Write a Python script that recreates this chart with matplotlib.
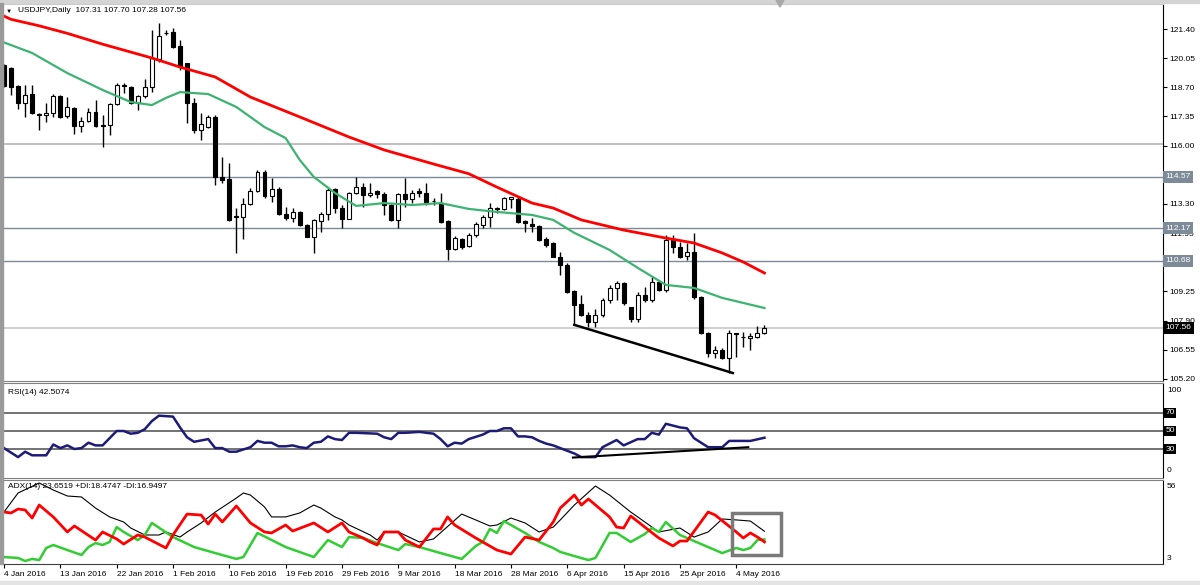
import numpy as np
import matplotlib
matplotlib.use('Agg')
import matplotlib.pyplot as plt
from matplotlib.patches import Rectangle, Polygon

plt.rcParams['font.family'] = ['Liberation Sans', 'DejaVu Sans']
plt.rcParams['font.size'] = 6

# daily candles, bar 0 = 4 Jan 2016
opens = [119.73, 119.59, 118.76, 117.97, 118.39, 117.47, 117.40, 117.51, 118.30, 117.37,
         117.74, 116.91, 117.14, 117.56, 116.96, 116.96, 117.93, 118.80, 118.71, 117.97,
         118.30, 118.71, 120.01, 121.20, 121.26, 120.61, 119.83, 117.97, 116.72, 116.86,
         117.33, 114.55, 114.45, 112.72, 112.70, 113.30, 113.90, 114.78, 113.67, 113.99,
         112.84, 112.65, 112.93, 112.33, 111.77, 112.50, 112.84, 113.99, 113.11, 112.60,
         113.81, 114.08, 113.71, 113.90, 113.76, 113.25, 112.56, 113.76, 113.53, 113.90,
         113.81, 113.44, 113.35, 112.51, 111.21, 111.68, 111.35, 111.86, 112.33, 112.70,
         113.11, 113.07, 113.55, 113.53, 112.51, 112.38, 112.28, 111.68, 111.49, 110.84,
         110.47, 109.27, 108.67, 108.16, 107.84, 108.16, 108.85, 109.41, 109.64, 108.53,
         107.97, 109.08, 108.85, 109.69, 109.32, 111.63, 111.31, 110.89, 111.08, 109.00,
         107.33, 106.40, 106.54, 106.17, 107.30, 107.15, 107.10, 107.15, 107.31]
highs = [119.80, 119.62, 118.80, 118.81, 118.81, 117.50, 117.97, 118.39, 118.35, 118.25,
         117.80, 117.33, 117.74, 118.11, 117.42, 117.97, 118.90, 118.90, 118.75, 118.34,
         119.08, 121.35, 121.68, 121.35, 121.45, 120.89, 119.85, 118.20, 117.51, 117.42,
         117.42, 115.47, 115.20, 113.11, 113.58, 114.04, 114.87, 114.87, 114.50, 114.08,
         113.16, 113.11, 112.97, 112.35, 112.60, 112.93, 114.04, 114.02, 113.25, 113.85,
         114.55, 114.27, 114.27, 113.95, 113.85, 113.28, 113.80, 114.50, 113.95, 114.04,
         114.27, 113.58, 113.81, 112.56, 111.82, 111.72, 111.95, 112.47, 112.79, 113.35,
         113.16, 113.62, 113.62, 113.65, 112.56, 112.65, 112.33, 111.75, 111.54, 111.08,
         110.57, 109.30, 109.08, 108.30, 108.44, 108.95, 109.55, 109.73, 109.69, 108.55,
         109.22, 109.45, 109.92, 109.80, 111.86, 111.86, 111.54, 111.49, 111.95, 109.05,
         107.38, 106.72, 106.63, 107.47, 107.33, 107.37, 107.33, 107.65, 107.70]
lows = [118.70, 118.34, 117.70, 117.33, 117.45, 116.72, 117.10, 117.33, 117.30, 117.28,
        116.54, 116.63, 117.10, 116.86, 115.94, 116.49, 117.88, 118.44, 117.95, 117.65,
        118.21, 118.48, 119.87, 121.12, 120.52, 119.50, 117.05, 116.58, 116.26, 116.82,
        114.18, 114.27, 112.50, 111.03, 111.68, 113.25, 113.85, 113.58, 113.39, 112.79,
        112.56, 112.47, 112.30, 111.75, 111.03, 112.00, 112.56, 112.88, 112.19, 112.58,
        113.75, 113.16, 113.62, 113.58, 112.79, 112.50, 112.19, 113.16, 113.35, 113.62,
        113.25, 113.25, 112.42, 110.71, 111.15, 111.21, 111.30, 111.77, 112.19, 112.24,
        112.88, 113.02, 113.11, 112.42, 112.00, 112.00, 111.58, 111.31, 110.82, 110.01,
        109.18, 107.70, 108.11, 107.60, 107.60, 108.07, 108.72, 108.85, 108.62, 107.84,
        107.84, 108.76, 108.76, 109.25, 109.22, 111.03, 110.80, 110.71, 108.90, 107.28,
        106.22, 106.17, 106.12, 105.47, 106.22, 106.68, 106.54, 107.10, 107.28]
closes = [118.75, 118.71, 117.97, 118.34, 117.51, 117.40, 117.51, 118.30, 117.33, 117.79,
          116.91, 117.14, 117.56, 116.91, 116.93, 117.93, 118.81, 118.76, 117.97, 118.30,
          118.71, 120.06, 121.08, 121.22, 120.57, 119.64, 117.97, 116.72, 117.00, 117.33,
          114.55, 114.41, 112.56, 112.68, 113.30, 113.90, 114.78, 113.67, 113.99, 112.84,
          112.65, 112.93, 112.33, 111.77, 112.56, 112.84, 113.95, 113.11, 112.60, 113.81,
          114.08, 113.71, 113.81, 113.76, 113.25, 112.56, 113.76, 113.53, 113.81, 113.81,
          113.39, 113.42, 112.47, 111.21, 111.72, 111.31, 111.86, 112.38, 112.70, 113.11,
          113.07, 113.58, 113.60, 112.47, 112.42, 112.28, 111.63, 111.40, 110.84, 110.47,
          109.22, 108.62, 108.16, 107.84, 108.16, 108.85, 109.41, 109.64, 108.72, 107.97,
          109.08, 108.85, 109.69, 109.32, 111.63, 111.31, 110.84, 111.08, 109.00, 107.33,
          106.40, 106.54, 106.17, 107.33, 107.26, 107.13, 107.17, 107.33, 107.56]

date_labels = ['4 Jan 2016', '13 Jan 2016', '22 Jan 2016', '1 Feb 2016', '10 Feb 2016',
               '19 Feb 2016', '29 Feb 2016', '9 Mar 2016', '18 Mar 2016', '28 Mar 2016',
               '6 Apr 2016', '15 Apr 2016', '25 Apr 2016', '4 May 2016']
price_ticks = [121.40, 120.05, 118.70, 117.35, 116.00, 114.65, 113.30,
               111.95, 110.60, 109.25, 107.90, 106.55, 105.20]
hidden_ticks = [114.65, 110.60]  # covered by the level boxes

# moving averages (bar index, price)
ma_slow_x = [0, 1, 5, 9, 14, 21, 25, 30, 35, 42, 49, 54, 61, 66, 70, 75, 78, 82, 88, 94, 98, 102, 105, 108]
ma_slow = [122.00, 121.85, 121.55, 121.20, 120.70, 120.06, 119.64, 119.18, 118.25, 117.33, 116.40,
           115.80, 115.15, 114.70, 114.08, 113.34, 113.11, 112.56, 112.09, 111.72, 111.49,
           111.03, 110.61, 110.10]
ma_fast_x = [0, 4, 9, 14, 18, 21, 23, 25, 29, 33, 37, 40, 42, 44, 47, 50, 54, 58, 62, 66,
             70, 75, 78, 81, 86, 90, 94, 98, 102, 108]
ma_fast = [120.78, 120.29, 119.36, 118.58, 118.02, 117.88, 118.21, 118.48, 118.39, 117.79,
           116.86, 116.35, 115.34, 114.55, 113.81, 113.21, 113.34, 113.25, 113.34, 113.07,
           112.93, 112.79, 112.56, 111.96, 111.17, 110.34, 109.55, 109.41, 108.95, 108.48]

grey_level = 116.06
slate_levels = [114.57, 112.17, 110.68]
bid = 107.56
trend_x = [81, 103.5]
trend_y = [107.70, 105.47]

rsi_x = [0, 2, 3, 4, 6, 7, 8, 9, 10, 11, 12, 13, 14, 16, 17, 18, 19, 20, 21, 22,
         24, 25, 26, 27, 29, 30, 31, 32, 33, 35, 36, 37, 38, 39, 40, 41, 42, 43, 44, 45,
         46, 47, 48, 49, 50, 53, 54, 55, 56, 57, 59, 60, 61, 62, 63, 64, 65, 66, 68, 69,
         70, 71, 72, 73, 74, 75, 76, 77, 78, 79, 81, 82, 84, 85, 87, 88, 90, 91, 92, 93,
         94, 96, 97, 98, 100, 102, 103, 104, 106, 108]
rsi = [31, 21, 27, 23, 23, 35, 31, 34, 30, 31, 37, 34, 34, 50, 50, 47, 48, 52, 61, 67,
       66, 54, 43, 38, 41, 31, 31, 27, 27, 32, 39, 37, 37, 33, 33, 34, 32, 31, 37, 38,
       44, 41, 40, 48, 48, 47, 43, 41, 48, 48, 49, 48, 47, 41, 33, 37, 36, 41, 46, 50,
       50, 53, 53, 44, 44, 43, 39, 36, 34, 31, 25, 21, 21, 32, 40, 34, 41, 41, 48, 46,
       58, 54, 53, 42, 32, 32, 39, 39, 39, 42.51]
rsi_levels = [70, 50, 30]
rsi_trend_x = [80.8, 105.7]
rsi_trend_y = [20.5, 32]

adx_x = [0, 2, 5, 7, 9, 11, 13, 15, 17, 18, 20, 22, 23, 25, 26, 28, 30, 33, 34, 35,
         37, 38, 40, 42, 44, 45, 47, 48, 49, 52, 53, 54, 56, 59, 61, 65, 67, 69, 70, 72,
         74, 76, 78, 79, 81, 84, 86, 89, 90, 93, 96, 98, 100, 102, 104, 106, 108]
adx = [35.8, 47.8, 54.1, 49.7, 45.9, 45.3, 38.3, 32.7, 29.5, 25.7, 21.3, 21.3, 23.2, 20.0, 23.2,
       28.9, 35.8, 44.6, 47.8, 46.5, 39.0, 32.7, 32.7, 35.2, 40.2, 38.3, 32.7, 30.8, 27.6, 21.3,
       18.1, 23.2, 23.2, 16.9, 18.8, 34.5, 30.8, 27.0, 27.6, 32.0, 28.9, 23.2, 26.3, 30.8, 40.2,
       52.2, 46.5, 35.8, 32.7, 23.2, 25.7, 20.0, 23.2, 31.4, 30.8, 30.1, 23.65]
mdi_x = [0, 1, 2, 3, 4, 5, 7, 9, 10, 13, 14, 16, 17, 19, 20, 23, 24, 26, 28, 29,
         30, 31, 33, 35, 37, 38, 40, 41, 44, 46, 48, 49, 51, 52, 53, 54, 56, 57, 59, 61,
         62, 63, 64, 67, 70, 72, 74, 76, 78, 79, 81, 82, 83, 86, 87, 88, 89, 91, 93, 95,
         96, 97, 100, 101, 104, 105, 106, 107, 108]
mdi = [35.8, 35.2, 37.7, 37.1, 32.0, 40.2, 32.7, 23.2, 27.0, 18.1, 23.2, 18.8, 15.6, 21.3, 20.0,
       13.1, 21.3, 34.5, 33.9, 28.2, 34.5, 29.5, 39.6, 28.9, 23.2, 22.6, 27.6, 23.8, 28.9, 23.2,
       28.9, 23.2, 19.4, 16.9, 15.0, 23.2, 23.2, 18.1, 13.7, 25.1, 25.1, 32.7, 27.6, 19.4, 11.8,
       9.3, 20.0, 18.1, 29.5, 38.3, 46.5, 40.2, 44.0, 32.7, 26.3, 25.7, 33.3, 26.3, 19.4, 14.4,
       17.5, 17.5, 35.8, 33.9, 23.2, 19.4, 22.6, 20.0, 16.95]
pdi_x = [0, 2, 3, 4, 5, 6, 7, 9, 11, 12, 13, 14, 15, 16, 17, 19, 20, 21, 24, 27,
         30, 33, 34, 36, 40, 44, 46, 48, 49, 51, 53, 56, 57, 59, 62, 65, 67, 68, 69, 70,
         71, 74, 76, 78, 79, 81, 83, 84, 86, 87, 89, 91, 92, 93, 94, 96, 99, 102, 104, 105,
         106, 107, 108]
pdi = [7.4, 6.8, 4.9, 6.2, 5.5, 13.1, 15.0, 11.8, 8.7, 13.7, 16.2, 15.0, 16.9, 26.3, 23.2,
       18.1, 21.3, 28.9, 20.0, 13.7, 9.9, 6.2, 7.4, 22.6, 13.7, 7.4, 18.1, 13.7, 20.0, 19.4,
       16.2, 11.8, 15.6, 13.7, 9.9, 6.2, 14.4, 16.9, 25.1, 22.6, 30.1, 22.6, 16.9, 13.1, 10.6,
       8.0, 5.5, 6.8, 22.6, 22.6, 16.9, 21.9, 25.7, 23.2, 29.5, 21.3, 15.6, 9.9, 13.1, 11.8,
       13.1, 18.1, 18.47]
box_x = [103.4, 110.4]
box_y = [8.7, 35.2]

W, H = 1200, 585


def place(top, bottom):
    return [3 / W, 1 - bottom / H, 1160 / W, (bottom - top) / H]


fig = plt.figure(figsize=(12, 5.85), dpi=100)
ax = fig.add_axes(place(4, 381))
ax_rsi = fig.add_axes(place(383, 478), sharex=ax)
ax_adx = fig.add_axes(place(480, 564), sharex=ax)

for a in (ax, ax_rsi, ax_adx):
    a.spines['left'].set_visible(False)
    a.spines['right'].set_color('black')
    a.spines['top'].set_color('#808080')
    a.spines['bottom'].set_color('#808080')
    a.tick_params(axis='x', bottom=False, labelbottom=False)
    a.yaxis.tick_right()
ax.spines['top'].set_color('#c8c8c8')
ax_adx.spines['bottom'].set_color('#404040')

# candles
o = np.array(opens)
h = np.array(highs)
l = np.array(lows)
c = np.array(closes)
idx = np.arange(len(o))
ax.vlines(idx, l, h, color='black', lw=1, zorder=2)
ax.bar(idx, np.maximum(np.abs(c - o), 0.025), bottom=np.minimum(o, c), width=0.56,
       color=np.where(c >= o, 'white', 'black'), edgecolor='black', lw=0.8, zorder=3)

ax.axhline(grey_level, color='#b4b4b4', lw=1.2, zorder=1)
for lv in slate_levels:
    ax.axhline(lv, color='#7d8b99', lw=1, zorder=1)
    ax.text(1.002, lv, f'{lv:.2f}', transform=ax.get_yaxis_transform(), color='white',
            ha='left', va='center', zorder=6, clip_on=False,
            bbox=dict(boxstyle='square,pad=0.3', fc='#7d8b99', ec='none'))
ax.axhline(bid, color='#c8c8c8', lw=1.2, zorder=1)
ax.text(1.002, bid, f'{bid:.2f}', transform=ax.get_yaxis_transform(), color='white',
        ha='left', va='center', zorder=6, clip_on=False,
        bbox=dict(boxstyle='square,pad=0.3', fc='black', ec='none'))

ax.plot(ma_slow_x, ma_slow, color='#ff0000', lw=2, zorder=4)
ax.plot(ma_fast_x, ma_fast, color='#3cb371', lw=1.6, zorder=4)
ax.plot(trend_x, trend_y, color='black', lw=1.8, zorder=5)

ax.set_xlim(-0.14, 164.6)
ax.set_ylim(105.10, 122.56)
ax.set_yticks(price_ticks)
ax.set_yticklabels(['' if t in hidden_ticks else f'{t:.2f}' for t in price_ticks])
ax.tick_params(axis='y', length=3, width=0.8, pad=1.5, labelsize=6)

# RSI
for lv in rsi_levels:
    ax_rsi.axhline(lv, color='#5a5a5a', lw=1.2, zorder=1)
    ax_rsi.text(1.002, lv, str(lv), transform=ax_rsi.get_yaxis_transform(), color='white',
                ha='left', va='center', clip_on=False,
                bbox=dict(boxstyle='square,pad=0.15', fc='black', ec='none'))
ax_rsi.plot(rsi_x, rsi, color='#1c1c78', lw=1.8, zorder=3)
ax_rsi.plot(rsi_trend_x, rsi_trend_y, color='black', lw=1.5, zorder=4)
ax_rsi.set_ylim(-2.2, 103.3)
ax_rsi.set_yticks([])

# ADX
ax_adx.plot(adx_x, adx, color='black', lw=0.8, zorder=3)
ax_adx.plot(mdi_x, mdi, color='#ff0000', lw=2, zorder=4)
ax_adx.plot(pdi_x, pdi, color='#32cd32', lw=1.8, zorder=3)
ax_adx.add_patch(Rectangle((box_x[0], box_y[0]), box_x[1] - box_x[0], box_y[1] - box_y[0],
                           fill=False, ec='#7a7a7a', lw=2.5, zorder=5))
ax_adx.set_ylim(3, 56)
ax_adx.set_yticks([])
ax_adx.set_xticks(range(0, 8 * len(date_labels), 8))
ax_adx.set_xticklabels(date_labels, ha='left')
ax_adx.tick_params(axis='x', bottom=True, labelbottom=True, length=3, width=0.8,
                   pad=2, labelsize=6)

# header texts and window frame
fig.text(6 / W, 1 - 11 / H, '\u25bc', fontsize=4.5, va='center')
fig.text(18 / W, 1 - 11 / H, 'USDJPY,Daily  107.31 107.70 107.28 107.56', va='center')
fig.text(8 / W, 1 - 392 / H, 'RSI(14) 42.5074', va='center')
fig.text(8 / W, 1 - 487 / H, 'ADX(14) 23.6519 +DI:18.4747 -DI:16.9497', va='center')
fig.text(1167 / W, 1 - 390 / H, '100', va='center')
fig.text(1167 / W, 1 - 470 / H, '0', va='center')
fig.text(1167 / W, 1 - 486 / H, '56', va='center')
fig.text(1167 / W, 1 - 559 / H, '3', va='center')

fig.patches.append(Rectangle((0, 1 - 3 / H), 1, 3 / H, transform=fig.transFigure,
                             color='#d4d4d4', zorder=0))
fig.patches.append(Rectangle((0, 0), 1, 4 / H, transform=fig.transFigure,
                             color='#e4e4e4', zorder=0))
fig.patches.append(Rectangle((0, 21 / H), 2.5 / W, 1 - 24 / H, transform=fig.transFigure,
                             color='#9a9a9a', zorder=0))
fig.patches.append(Polygon([(776 / W, 1), (784 / W, 1), (780 / W, 1 - 7 / H)],
                           transform=fig.transFigure, color='#a8a8a8', zorder=1))

fig.savefig('out.png', dpi=100)
